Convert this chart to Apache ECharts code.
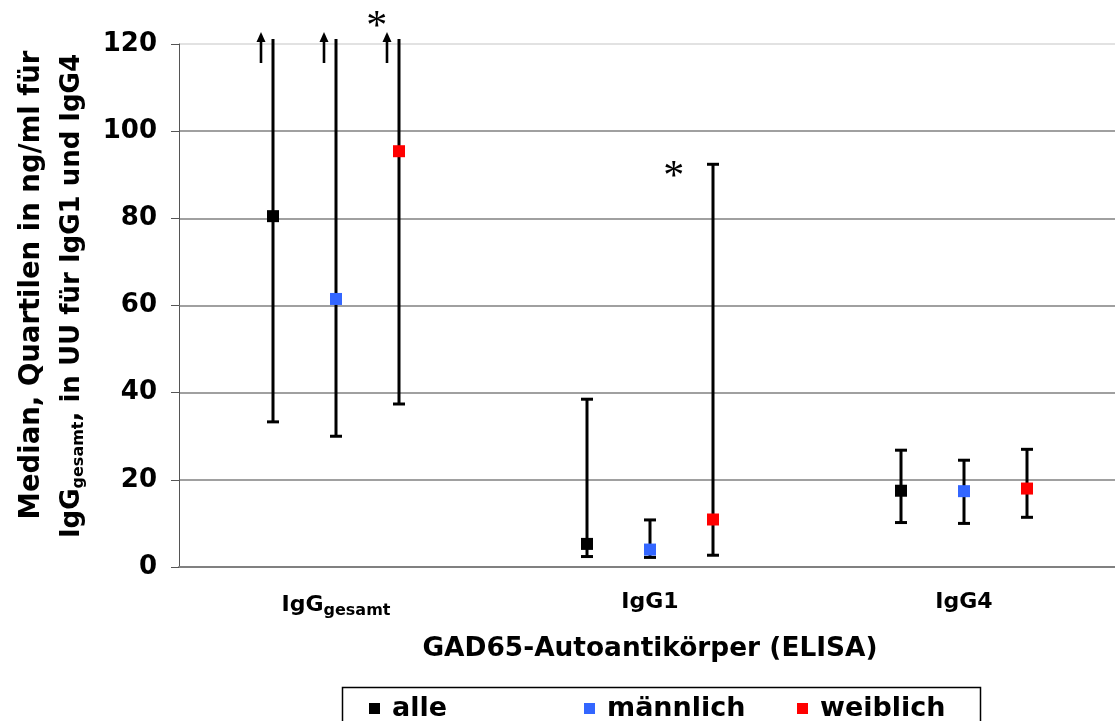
<!DOCTYPE html>
<html><head><meta charset="utf-8">
<script src="https://cdn.jsdelivr.net/npm/echarts@6/dist/echarts.min.js"></script>
<style>html,body{margin:0;padding:0;background:#fff}#c{width:1115px;height:721px}</style>
</head><body><div id="c"></div>
<script>
// ---- data ----
const categories = ['IgG_gesamt', 'IgG1', 'IgG4'];
const groups = ['alle', 'männlich', 'weiblich'];
const alleMedian = [80.5, 5.3, 17.5];
const alleQ1 = [33.3, 2.4, 10.2];
const alleQ3 = [null, 38.5, 26.8];      // null = above axis maximum (arrow)
const maennlichMedian = [61.5, 4.0, 17.4];
const maennlichQ1 = [30.0, 2.2, 10.0];
const maennlichQ3 = [null, 10.8, 24.5];
const weiblichMedian = [95.4, 10.9, 18.0];
const weiblichQ1 = [37.4, 2.7, 11.4];
const weiblichQ3 = [null, 92.4, 27.0];
const yTicks = [0, 20, 40, 60, 80, 100, 120];
const asteriskCats = [0, 1];            // significance marks (weiblich)
const asteriskValues = [125.5, 91.1];

// ---- chart ----
const colors = ['#000000', '#3366FF', '#FF0000'];
const offsets = [-0.2, 0, 0.2];
const FONT = '"DejaVu Sans", Verdana, sans-serif';

function makeRender(gi, q1, q3) {
  return function (params, api) {
    const k = params.dataIndex;
    const cat = api.value(0);
    const band = api.size([1, 0])[0];
    const x = Math.round(api.coord([cat, 0])[0] + band * offsets[gi]);
    const yMed = api.coord([cat, api.value(1)])[1];
    const yLo = api.coord([cat, q1[k]])[1];
    const top = params.coordSys.y;
    const open = q3[k] == null;
    const yHi = open ? top - 5 : api.coord([cat, q3[k]])[1];
    const lineStyle = { stroke: '#000', lineWidth: 3 };
    const children = [
      { type: 'line', shape: { x1: x, y1: yLo, x2: x, y2: yHi }, style: lineStyle },
      { type: 'line', shape: { x1: x - 6, y1: yLo, x2: x + 6, y2: yLo }, style: lineStyle }
    ];
    if (!open) {
      children.push({ type: 'line', shape: { x1: x - 6, y1: yHi, x2: x + 6, y2: yHi }, style: lineStyle });
    } else {
      const ax = x - 12;
      children.push({ type: 'line', shape: { x1: ax, y1: top + 19, x2: ax, y2: top - 3 }, style: { stroke: '#000', lineWidth: 2.6 } });
      children.push({ type: 'polygon', shape: { points: [[ax - 4.5, top - 2], [ax + 4.5, top - 2], [ax, top - 12]] }, style: { fill: '#000' } });
    }
    children.push({ type: 'rect', shape: { x: x - 6, y: yMed - 6, width: 12, height: 12 }, style: { fill: colors[gi] } });
    return { type: 'group', children: children };
  };
}

function groupData(med) { return categories.map((c, k) => [k, med[k]]); }

const defs = [
  [alleMedian, alleQ1, alleQ3],
  [maennlichMedian, maennlichQ1, maennlichQ3],
  [weiblichMedian, weiblichQ1, weiblichQ3]
];

const series = defs.map((d, gi) => ({
  name: groups[gi],
  type: 'custom',
  renderItem: makeRender(gi, d[1], d[2]),
  encode: { x: 0, y: 1 },
  itemStyle: { color: colors[gi] },
  clip: false,
  z: 3,
  data: groupData(d[0])
}));

const asteriskDx = [-22, -39];
series.push({
  name: 'sig',
  type: 'custom',
  clip: false,
  z: 4,
  encode: { x: 0, y: 1 },
  renderItem: function (params, api) {
    const cat = api.value(0);
    const band = api.size([1, 0])[0];
    const p = api.coord([cat, api.value(1)]);
    return {
      type: 'text',
      x: p[0] + band * offsets[2] + asteriskDx[params.dataIndex],
      y: p[1] + 8,
      style: { text: '*', fill: '#000', font: '42px "Liberation Serif", serif', align: 'center', verticalAlign: 'middle' }
    };
  },
  data: asteriskCats.map((c, i) => [c, asteriskValues[i]])
});

const legendLefts = [369, 584, 797];
const legends = groups.map((g, i) => ({
  left: legendLefts[i], top: 695,
  orient: 'horizontal',
  icon: 'rect', itemWidth: 11, itemHeight: 11,
  padding: 0,
  selectedMode: false,
  textStyle: { fontFamily: FONT, fontWeight: 'bold', fontSize: 27, color: '#000', padding: [0, 0, 0, 7] },
  data: [g]
}));

const gridColors = ['#808080', '#808080', '#808080', '#808080', '#808080', '#808080', '#d8d8d8'];

const chart = echarts.init(document.getElementById('c'), null, { renderer: 'canvas' });
chart.setOption({
  animation: false,
  backgroundColor: '#fff',
  grid: { left: 179, top: 44, width: 942, height: 523, containLabel: false, outerBoundsMode: 'none' },
  legend: legends,
  graphic: [{
    type: 'rect', left: 340, top: 685,
    shape: { width: 638, height: 60 },
    style: { fill: 'none', stroke: '#000', lineWidth: 1.5 },
    z: 10
  }],
  xAxis: {
    type: 'category',
    data: categories,
    boundaryGap: true,
    axisLine: { lineStyle: { color: '#808080', width: 2 } },
    axisTick: { show: false },
    axisLabel: {
      margin: 24,
      formatter: v => v === 'IgG_gesamt' ? '{b|IgG}{s|gesamt}' : '{b|' + v + '}',
      rich: {
        b: { fontFamily: FONT, fontWeight: 'bold', fontSize: 22, color: '#000' },
        s: { fontFamily: FONT, fontWeight: 'bold', fontSize: 16, color: '#000', padding: [12, 0, 0, 0] }
      }
    },
    name: 'GAD65-Autoantikörper (ELISA)',
    nameLocation: 'middle',
    nameGap: 69,
    nameTextStyle: { fontFamily: FONT, fontWeight: 'bold', fontSize: 26.4, color: '#000' }
  },
  yAxis: {
    type: 'value',
    min: 0, max: 120, interval: 20,
    axisLine: { show: true, lineStyle: { color: '#555', width: 1 } },
    axisTick: { show: true, length: 8, lineStyle: { color: '#555' } },
    splitLine: { lineStyle: { color: gridColors, width: 1.5 } },
    axisLabel: {
      margin: 22,
      fontFamily: FONT, fontWeight: 'bold', fontSize: 26, color: '#000',
      formatter: v => yTicks.indexOf(v) >= 0 ? String(v) : ''
    },
    name: '{a|Median, Quartilen in ng/ml für}\n{b|IgG}{s|gesamt}{b|, in UU für IgG1 und IgG4}',
    nameLocation: 'middle',
    nameGap: 81,
    nameTextStyle: {
      fontFamily: FONT, fontWeight: 'bold', fontSize: 26, color: '#000', lineHeight: 40,
      padding: [0, 0, 0, 19],
      rich: {
        a: { fontFamily: FONT, fontWeight: 'bold', fontSize: 27.5, color: '#000', lineHeight: 40, padding: [0, 0, 0, 22] },
        b: { fontFamily: FONT, fontWeight: 'bold', fontSize: 26, color: '#000', lineHeight: 40 },
        s: { fontFamily: FONT, fontWeight: 'bold', fontSize: 16, color: '#000', lineHeight: 40, padding: [14, 0, 0, 0] }
      }
    }
  },
  series: series
});
</script>
</body></html>
